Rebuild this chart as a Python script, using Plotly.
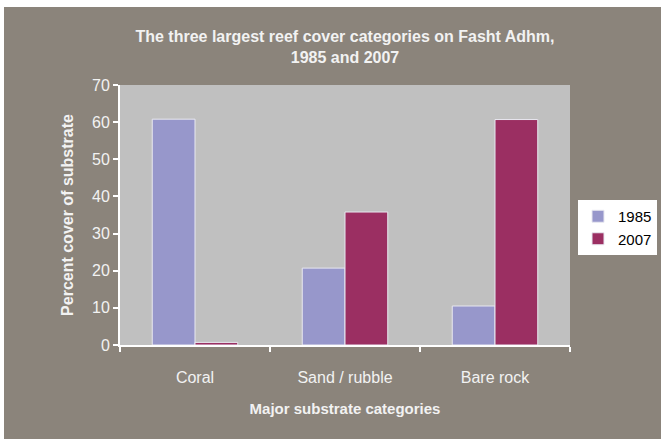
import plotly.graph_objects as go

categories = ["Coral", "Sand / rubble", "Bare rock"]
series_names = ["1985", "2007"]
values_1985 = [60.8, 20.7, 10.5]
values_2007 = [0.7, 35.8, 60.7]
y_ticks = [0, 10, 20, 30, 40, 50, 60, 70]

W, H = 661, 439
L, R, T, B = 120, 91, 85, 94
pw, ph = W - L - R, H - T - B

def px_x(x):
    return (x - L) / pw

def px_y(y):
    return (H - B - y) / ph

fig = go.Figure()
fig.add_trace(go.Bar(name=series_names[0], x=categories, y=values_1985,
                     marker=dict(color="#9797cb", line=dict(color="#e8e8f0", width=1))))
fig.add_trace(go.Bar(name=series_names[1], x=categories, y=values_2007,
                     marker=dict(color="#9b2f62", line=dict(color="#e8e8f0", width=1))))

txt = "#f2f2f2"
fig.update_layout(
    width=W, height=H,
    margin=dict(l=L, r=R, t=T, b=B, autoexpand=False),
    paper_bgcolor="#8b847b",
    plot_bgcolor="#c0c0c0",
    barmode="group", bargap=0.43, bargroupgap=0,
    title=dict(text="<b>The three largest reef cover categories on Fasht Adhm,<br>1985 and 2007</b>",
               x=0.5, xref="paper", xanchor="center", y=1 - 42 / H, yanchor="middle",
               font=dict(family="Liberation Sans, Arial, sans-serif", size=16, color=txt)),
    font=dict(family="Liberation Sans, Arial, sans-serif", size=16, color=txt),
    showlegend=True,
    legend=dict(x=px_x(578), y=px_y(200), xanchor="left", yanchor="top",
                bgcolor="white", font=dict(color="black", size=15, family="Liberation Sans, Arial, sans-serif"),
                itemwidth=30, tracegroupgap=2),
    xaxis=dict(showline=True, linecolor="white", linewidth=2, ticks="outside", tickcolor="white",
               ticklen=5, tickwidth=2, tickson="boundaries", showgrid=False,
               ticklabelstandoff=17,
               tickfont=dict(size=16, color=txt),
               title=dict(text="<b>Major substrate categories</b>", font=dict(size=15, color=txt), standoff=18)),
    yaxis=dict(range=[0, 70], tickvals=y_ticks, showline=True, linecolor="white", linewidth=2,
               ticks="outside", tickcolor="white", ticklen=5, tickwidth=2, showgrid=False, zeroline=False,
               tickfont=dict(size=16, color=txt),
               title=dict(text="<b>Percent cover of substrate</b>", font=dict(size=16, color=txt), standoff=14)),
    shapes=[
        dict(type="rect", xref="paper", yref="paper", x0=px_x(0), x1=px_x(4), y0=px_y(H), y1=px_y(0),
             fillcolor="white", line=dict(width=0)),
        dict(type="rect", xref="paper", yref="paper", x0=px_x(0), x1=px_x(W), y0=px_y(7), y1=px_y(0),
             fillcolor="white", line=dict(width=0)),
    ],
)

fig.write_html("out.html", config={"displayModeBar": False},
               post_script="document.body.style.margin='0';document.body.style.overflow='hidden';")
